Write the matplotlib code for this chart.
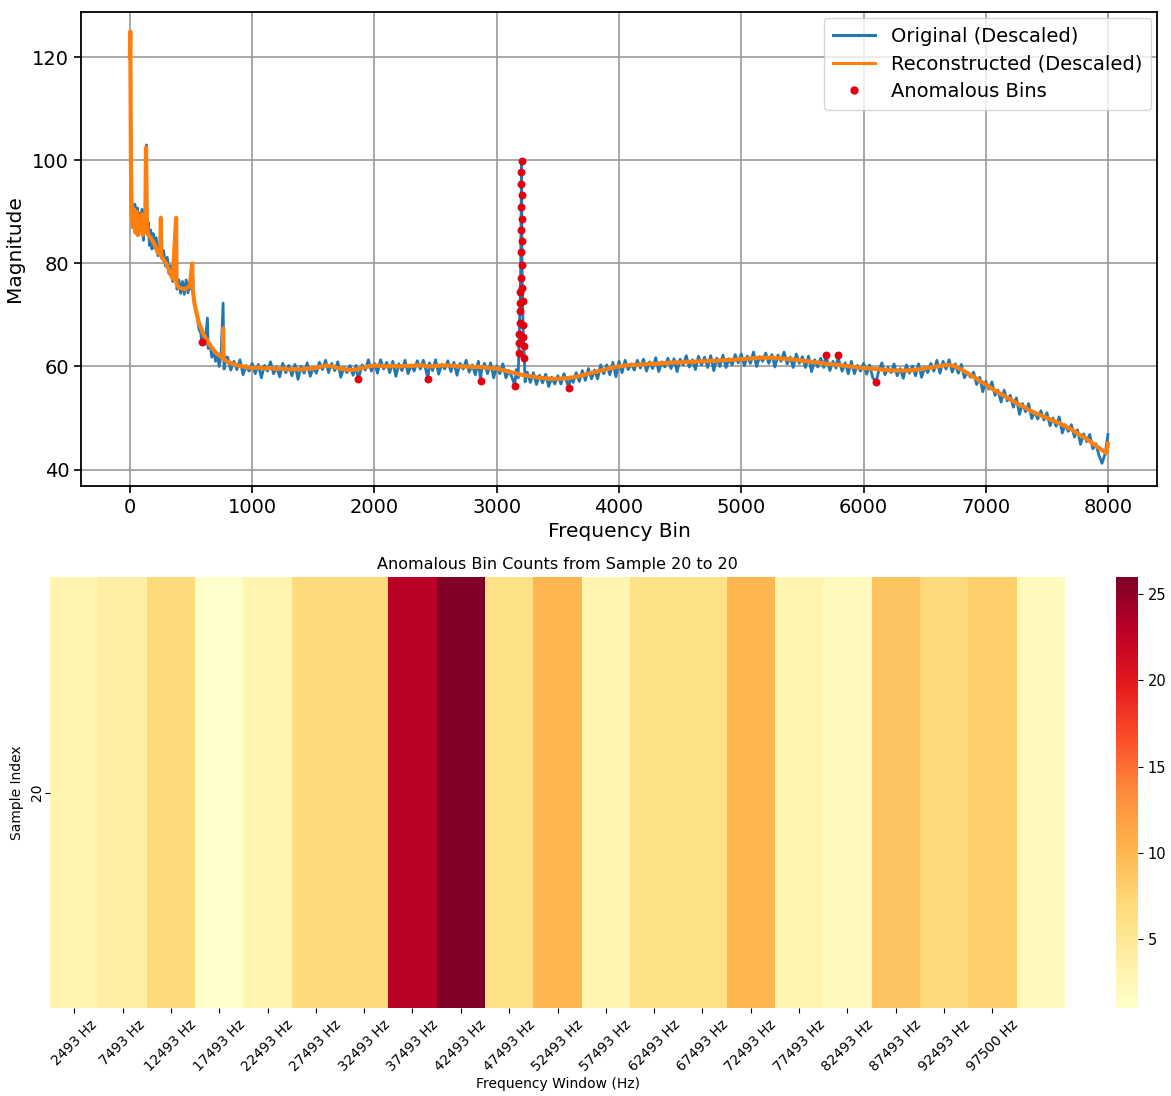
import matplotlib
matplotlib.use("Agg")
import matplotlib.pyplot as plt
import numpy as np
import seaborn as sns
from matplotlib.lines import Line2D

# ---------------- data: top panel ----------------
orig_bins = [
    0, 3, 6, 10, 15, 20, 30, 40, 50, 60, 70, 80, 90, 100, 110, 120, 130, 135, 140, 150,
    160, 170, 180, 190, 200, 215, 230, 245, 253, 260, 275, 290, 305, 320, 335, 350, 365, 378, 385, 400,
    415, 430, 445, 460, 475, 490, 500, 510, 520, 535, 550, 565, 580, 586, 600, 615, 634, 640, 655, 670,
    685, 700, 715, 730, 745, 762, 770, 785,
    800, 825, 850, 875, 900, 925, 950, 975, 1000, 1025, 1050, 1075, 1100, 1125, 1150, 1175,
    1200, 1225, 1250, 1275, 1300, 1325, 1350, 1375, 1400, 1425, 1450, 1475, 1500, 1525, 1550, 1575,
    1600, 1625, 1650, 1675, 1700, 1725, 1750, 1775, 1800, 1825, 1850, 1866, 1875,
    1900, 1925, 1950, 1975, 2000, 2025, 2050, 2075, 2100, 2125, 2150, 2175, 2200, 2225, 2250, 2275,
    2300, 2325, 2350, 2375, 2400, 2425, 2437, 2450, 2475, 2500, 2525, 2550, 2575, 2600, 2625, 2650, 2675,
    2700, 2725, 2750, 2775, 2800, 2825, 2850, 2869, 2875, 2900, 2925, 2950, 2975,
    3000, 3025, 3050, 3075, 3100, 3125, 3147, 3160, 3175,
    3181, 3183, 3185, 3187, 3189, 3191, 3193, 3195, 3197, 3199, 3200, 3201, 3202, 3203,
    3204, 3205, 3206, 3207, 3209, 3212, 3215, 3218, 3222, 3226,
    3232, 3250, 3275, 3300, 3325, 3350, 3375, 3400, 3425, 3450, 3475,
    3500, 3525, 3550, 3575, 3590, 3600, 3625, 3650, 3675, 3700, 3725, 3750, 3775,
    3800, 3825, 3850, 3875, 3900, 3925, 3950, 3975, 4000, 4025, 4050, 4075, 4100, 4125, 4150, 4175,
    4200, 4225, 4250, 4275, 4300, 4325, 4350, 4375, 4400, 4425, 4450, 4475, 4500, 4525, 4550, 4575,
    4600, 4625, 4650, 4675, 4700, 4725, 4750, 4775, 4800, 4825, 4850, 4875, 4900, 4925, 4950, 4975,
    5000, 5025, 5050, 5075, 5100, 5125, 5150, 5175, 5200, 5225, 5250, 5275, 5300, 5325, 5350, 5375,
    5400, 5425, 5450, 5475, 5500, 5525, 5550, 5575, 5600, 5625, 5650, 5675, 5692,
    5700, 5725, 5750, 5775, 5794, 5800, 5825, 5850, 5875, 5900, 5925, 5950, 5975,
    6000, 6025, 6050, 6075, 6102, 6125, 6150, 6175, 6200, 6225, 6250, 6275,
    6300, 6325, 6350, 6375, 6400, 6425, 6450, 6475, 6500, 6525, 6550, 6575,
    6600, 6625, 6650, 6675, 6700, 6725, 6750, 6775, 6800, 6825, 6850, 6875,
    6900, 6925, 6950, 6975, 7000, 7025, 7050, 7075, 7100, 7125, 7150, 7175,
    7200, 7225, 7250, 7275, 7300, 7325, 7350, 7375, 7400, 7425, 7450, 7475,
    7500, 7525, 7550, 7575, 7600, 7625, 7650, 7675, 7700, 7725, 7750, 7775,
    7800, 7825, 7850, 7875, 7900, 7925, 7950, 7975, 7999,
]
orig_vals = [
    120.0, 124.8, 110.0, 95.0, 89.5, 90.5, 87.5, 91.5, 86.0, 90.8, 85.5, 89.8, 86.5, 90.5, 84.5, 89.0, 86.0, 103.0, 86.5, 88.0,
    83.5, 86.5, 82.8, 85.8, 83.0, 85.0, 81.5, 83.0, 89.0, 81.0, 82.5, 79.5, 81.2, 78.0, 79.6, 76.5, 78.0, 89.0, 75.0, 76.8,
    74.2, 76.5, 74.0, 76.8, 74.3, 76.6, 75.0, 80.0, 73.0, 71.5, 70.0, 67.2, 66.5, 64.7, 66.2, 64.3, 69.4, 63.5, 64.5, 61.8,
    63.5, 61.0, 62.6, 60.0, 62.0, 72.3, 59.5, 61.8,
    61.8, 59.3, 61.0, 59.4, 61.3, 58.4, 60.2, 59.1, 60.6, 58.6, 60.4, 57.8, 60.2, 59.1, 60.9, 58.6,
    59.9, 58.0, 60.6, 58.8, 60.2, 58.2, 60.4, 57.5, 60.0, 58.7, 60.7, 58.1, 59.8, 58.7, 60.8, 59.4,
    61.2, 58.8, 60.6, 59.2, 60.9, 57.9, 59.8, 58.8, 60.2, 58.3, 60.2, 57.5, 58.2,
    60.3, 59.3, 61.3, 59.1, 60.6, 58.7, 61.3, 59.5, 60.8, 58.8, 61.0, 58.1, 60.5, 59.2, 61.2, 58.6,
    60.3, 59.1, 61.1, 59.5, 61.2, 58.9, 57.6, 60.7, 59.2, 61.3, 58.5, 60.4, 59.5, 61.1, 59.0, 60.8, 58.3,
    60.6, 59.5, 61.2, 58.9, 60.3, 58.4, 61.0, 57.2, 59.2, 60.6, 58.6, 60.7, 57.8,
    60.1, 58.6, 60.5, 57.8, 59.2, 57.9, 56.3, 59.4, 57.8,
    62.6, 64.5, 66.3, 68.4, 70.7, 72.3, 74.5, 77.1, 82.3, 86.5, 90.9, 95.4, 97.7, 99.9,
    93.2, 88.7, 84.4, 79.7, 75.2, 72.7, 68.0, 65.8, 63.9, 61.6,
    57.0, 58.9, 56.9, 58.8, 56.5, 58.3, 56.8, 58.5, 56.1, 57.9, 56.6,
    58.2, 56.6, 58.6, 56.9, 55.8, 57.9, 56.9, 58.8, 57.1, 59.2, 57.3, 59.6, 57.6,
    59.3, 57.6, 60.3, 58.6, 60.3, 58.4, 60.8, 58.0, 61.0, 58.8, 61.2, 59.4, 60.5, 59.3, 61.2, 59.7,
    61.4, 59.1, 60.9, 59.6, 61.7, 59.0, 60.9, 59.9, 61.6, 59.6, 61.5, 59.0, 61.4, 60.3, 62.1, 59.9,
    61.3, 59.4, 62.0, 60.3, 61.8, 59.8, 62.1, 59.2, 61.6, 60.0, 62.2, 59.8, 61.5, 60.3, 62.3, 60.7,
    62.4, 60.2, 62.0, 60.6, 62.8, 60.0, 61.9, 61.0, 62.6, 60.6, 62.3, 59.9, 62.2, 61.0, 62.8, 60.5,
    61.8, 59.8, 62.4, 60.6, 61.9, 59.8, 62.0, 59.0, 61.3, 59.9, 61.6, 59.8, 62.3,
    61.4, 59.2, 61.0, 59.7, 62.3, 61.0, 59.1, 60.7, 58.6, 61.0, 58.6, 60.2, 59.1,
    60.6, 58.5, 60.3, 57.8, 57.0, 59.2, 60.7, 58.4, 59.8, 58.8, 60.5, 58.2,
    59.6, 57.7, 60.3, 58.7, 60.1, 58.2, 60.5, 57.9, 59.8, 58.8, 60.6, 59.1,
    61.2, 58.7, 61.0, 59.5, 61.3, 58.9, 60.5, 58.7, 60.4, 57.8, 58.9, 57.9,
    58.9, 56.5, 57.9, 55.1, 57.1, 55.6, 57.0, 54.4, 55.4, 53.1, 55.4, 53.3,
    54.4, 52.1, 53.9, 50.7, 52.8, 51.2, 52.8, 49.9, 51.2, 49.8, 51.4, 49.6,
    51.0, 48.5, 50.0, 48.4, 50.2, 47.1, 48.7, 47.4, 48.7, 46.3, 47.7, 44.9,
    46.9, 45.4, 46.8, 44.0, 45.0, 42.8, 41.2, 43.0, 46.8,
]

recon_bins = [
    0, 3, 8, 15, 25, 35, 45, 55, 65, 75, 85, 95, 105, 115, 125, 132, 138, 150, 170, 200,
    230, 250, 253, 256, 300, 350, 378, 381, 400, 450, 490, 510, 513, 530, 560, 600, 650, 700, 760, 762, 765,
    800, 850, 900, 950, 1000, 1050, 1100, 1150, 1200, 1250, 1300, 1350, 1400, 1450, 1500, 1550,
    1600, 1650, 1700, 1750, 1800, 1850, 1900, 1950, 2000, 2050, 2100, 2150, 2200, 2250, 2300, 2350,
    2400, 2450, 2500, 2550, 2600, 2650, 2700, 2750, 2800, 2850, 2900, 2950, 3000, 3050, 3100, 3150,
    3200, 3250, 3300, 3350, 3400, 3450, 3500, 3550, 3600, 3650, 3700, 3750, 3800, 3850, 3900, 3950,
    4000, 4050, 4100, 4150, 4200, 4250, 4300, 4350, 4400, 4450, 4500, 4550, 4600, 4650, 4700, 4750,
    4800, 4850, 4900, 4950, 5000, 5050, 5100, 5150, 5200, 5250, 5300, 5350, 5400, 5450, 5500, 5550,
    5600, 5650, 5700, 5750, 5800, 5850, 5900, 5950, 6000, 6050, 6100, 6150, 6200, 6250, 6300, 6350,
    6400, 6450, 6500, 6550, 6600, 6650, 6700, 6750, 6800, 6850, 6900, 6950, 7000, 7050, 7100, 7150,
    7200, 7250, 7300, 7350, 7400, 7450, 7500, 7550, 7600, 7650, 7700, 7750, 7800, 7850, 7900, 7950,
    7985, 7999,
]
recon_vals = [
    120.0, 125.0, 100.0, 90.0, 87.0, 90.5, 86.0, 90.0, 85.5, 89.0, 86.5, 89.5, 85.5, 88.5, 86.0, 102.5, 87.5, 85.5, 85.0, 83.8,
    82.0, 81.8, 88.8, 81.5, 79.8, 77.0, 88.8, 76.0, 75.3, 75.0, 75.6, 80.0, 75.0, 72.0, 68.8, 66.3, 64.3, 62.7, 61.6, 67.4, 61.5,
    60.9, 60.4, 60.1, 59.9, 59.7, 59.8, 59.6, 59.7, 59.5, 59.6, 59.4, 59.5, 59.4, 59.6, 59.6, 59.9,
    60.2, 60.0, 59.7, 59.5, 59.3, 59.4, 59.7, 60.0, 60.2, 60.1, 60.0, 60.1, 60.0, 60.1, 60.1, 60.2,
    60.2, 60.0, 60.1, 60.2, 60.2, 60.1, 60.0, 60.0, 59.9, 59.9, 59.8, 59.7, 59.6, 59.3, 59.0, 58.7,
    58.4, 58.2, 58.0, 57.8, 57.7, 57.6, 57.6, 57.7, 57.8, 58.0, 58.3, 58.6, 58.9, 59.2, 59.5, 59.8,
    60.0, 60.2, 60.3, 60.3, 60.4, 60.5, 60.5, 60.6, 60.7, 60.8, 60.8, 60.9, 60.9, 61.0, 61.0, 61.1,
    61.1, 61.2, 61.3, 61.3, 61.4, 61.5, 61.6, 61.7, 61.7, 61.7, 61.6, 61.5, 61.4, 61.3, 61.1, 61.0,
    60.8, 60.7, 60.5, 60.4, 60.3, 60.1, 60.0, 59.8, 59.7, 59.6, 59.5, 59.4, 59.3, 59.2, 59.2, 59.2,
    59.3, 59.4, 59.6, 59.8, 60.0, 60.2, 60.3, 60.0, 59.4, 58.7, 58.0, 57.2, 56.5, 55.7, 55.0, 54.3,
    53.6, 52.9, 52.3, 51.6, 51.0, 50.5, 50.0, 49.5, 49.0, 48.4, 47.8, 47.0, 46.3, 45.5, 44.6, 43.8,
    43.2, 45.0,
]

anom_bins = [586, 1866, 2437, 2869, 3147,
             3181, 3183, 3185, 3187, 3189, 3191, 3193, 3195, 3197, 3199, 3200, 3201, 3202, 3203,
             3204, 3205, 3206, 3207, 3209, 3212, 3215, 3218, 3222, 3226,
             3590, 5692, 5794, 6102]
anom_vals = [64.7, 57.5, 57.6, 57.2, 56.3,
             62.6, 64.5, 66.3, 68.4, 70.7, 72.3, 74.5, 77.1, 82.3, 86.5, 90.9, 95.4, 97.7, 99.9,
             93.2, 88.7, 84.4, 79.7, 75.2, 72.7, 68.0, 65.8, 63.9, 61.6,
             55.8, 62.3, 62.3, 57.0]

# ---------------- data: heatmap ----------------
window_labels = ["2493 Hz", "7493 Hz", "12493 Hz", "17493 Hz", "22493 Hz", "27493 Hz",
                 "32493 Hz", "37493 Hz", "42493 Hz", "47493 Hz", "52493 Hz", "57493 Hz",
                 "62493 Hz", "67493 Hz", "72493 Hz", "77493 Hz", "82493 Hz", "87493 Hz",
                 "92493 Hz", "97500 Hz"]
window_counts = [3, 4, 7, 1, 3, 7, 7, 23, 26, 6, 10, 3, 6, 6, 10, 3, 2, 9, 7, 8, 2]
sample_labels = ["20"]

# ---------------- figure ----------------
W, H = 1171, 1096
fig = plt.figure(figsize=(W / 100, H / 100), dpi=100)

def rect(l, t, r, b):
    return [l / W, 1 - b / H, (r - l) / W, (b - t) / H]

ax1 = fig.add_axes(rect(81, 12, 1157, 486))
ax1.plot(orig_bins, orig_vals, color="#1f77b4", lw=2.0, label="Original (Descaled)", zorder=2)
ax1.plot(recon_bins, recon_vals, color="#ff7f0e", lw=3.0, label="Reconstructed (Descaled)", zorder=3)
ax1.scatter(anom_bins, anom_vals, s=22, color="#e3000f", zorder=4, label="Anomalous Bins")
ax1.grid(True, color="#999999", lw=1.2)
ax1.set_axisbelow(True)
ax1.set_xlim(-400, 8400)
ax1.set_ylim(36.8, 128.8)
ax1.set_yticks([40, 60, 80, 100, 120])
ax1.set_xticks(range(0, 8001, 1000))
ax1.tick_params(labelsize=14, length=5, width=1.2)
for s in ax1.spines.values():
    s.set_linewidth(1.3)
ax1.set_xlabel("Frequency Bin", fontsize=14.5, labelpad=4)
ax1.set_ylabel("Magnitude", fontsize=14.5, labelpad=6)
handles = [Line2D([], [], color="#1f77b4", lw=2.2),
           Line2D([], [], color="#ff7f0e", lw=2.2),
           Line2D([], [], color="#e3000f", marker="o", ls="", ms=5)]
ax1.legend(handles, ["Original (Descaled)", "Reconstructed (Descaled)", "Anomalous Bins"],
           loc="upper right", fontsize=14, borderaxespad=0.3, handlelength=2.2,
           handletextpad=0.8, labelspacing=0.45, borderpad=0.45)

ax2 = fig.add_axes(rect(50, 577, 1065, 1008))
cax = fig.add_axes(rect(1116, 577, 1138, 1008))
data = np.array([window_counts])
sns.heatmap(data, ax=ax2, cbar_ax=cax, cmap="YlOrRd",
            xticklabels=window_labels, yticklabels=sample_labels)
ax2.set_xticklabels(window_labels, rotation=45, ha="center", fontsize=10)
ax2.set_yticklabels(sample_labels, rotation=90, va="center", fontsize=10)
ax2.tick_params(axis="y", pad=1)
ax2.set_title("Anomalous Bin Counts from Sample 20 to 20", fontsize=11.5, pad=6)
ax2.set_xlabel("Frequency Window (Hz)", fontsize=10, labelpad=2)
ax2.set_ylabel("Sample Index", fontsize=10)
cax.tick_params(labelsize=10.5)
cax.set_yticks([5, 10, 15, 20, 25])

fig.savefig("out.png", dpi=100)
